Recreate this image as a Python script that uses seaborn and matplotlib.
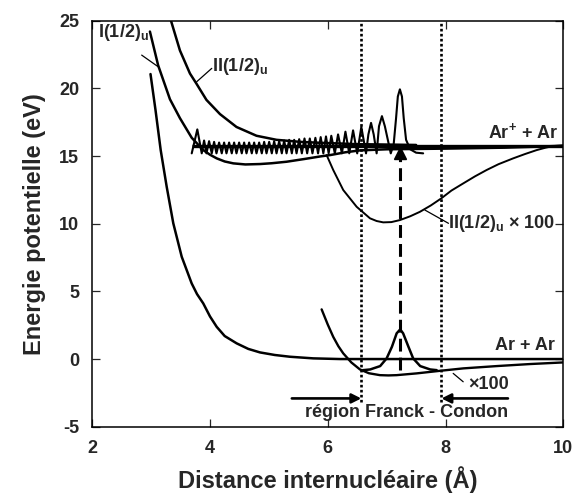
"""
Courbes de potentiel Ar2 / Ar2+ et region Franck-Condon.
"""
import matplotlib
matplotlib.use("Agg")
import matplotlib.pyplot as plt
import seaborn as sns

# --- Etat fondamental (Ar + Ar), mur repulsif + asymptote
ground_x = [2.99, 3.075, 3.163, 3.265, 3.377, 3.52, 3.689, 3.78, 3.886, 4.0, 4.114, 4.25,
            4.453, 4.65, 4.849, 5.1, 5.358, 5.754, 6.207, 10.0]
ground_y = [21.06, 18.40, 15.44, 12.73, 10.03, 7.56, 5.59, 4.80, 4.11, 3.15, 2.38, 1.70,
            1.16, 0.75, 0.49, 0.30, 0.17, 0.05, 0.0, 0.0]

# --- Puits du fondamental agrandi x100
well_x = [5.896, 6.0, 6.093, 6.18, 6.263, 6.40, 6.547, 6.70, 6.886, 7.03, 7.17, 7.509,
          7.905, 8.301, 8.868, 9.433, 9.998]
well_y = [3.67, 2.55, 1.64, 0.95, 0.42, -0.25, -0.77, -1.05, -1.19, -1.21, -1.19, -1.06,
          -0.87, -0.69, -0.52, -0.37, -0.25]

# --- Fonction d'onde v=0 du fondamental
gs_psi_x = [6.60, 6.72, 6.89, 7.00, 7.09, 7.17, 7.23, 7.28, 7.37, 7.45, 7.57, 7.74, 7.85]
gs_psi_y = [-0.82, -0.77, -0.52, 0.05, 0.91, 1.90, 2.19, 1.90, 0.91, 0.05, -0.52, -0.77, -0.82]

# --- Etat ionique I(1/2)u
state1_x = [2.98, 3.12, 3.32, 3.49, 3.69, 3.886, 4.0, 4.114, 4.25, 4.396, 4.6, 4.85, 5.05,
            5.30, 5.60, 5.87, 6.05, 6.30, 6.55, 7.0, 8.0, 9.0, 9.6, 10.0]
state1_y = [24.2, 21.7, 19.2, 17.8, 16.35, 15.44, 15.10, 14.83, 14.60, 14.46, 14.38, 14.41,
            14.47, 14.58, 14.78, 14.97, 15.08, 15.28, 15.42, 15.5, 15.55, 15.62, 15.7, 15.76]

# --- Etat ionique II(1/2)u
state2_x = [3.338, 3.49, 3.66, 3.77, 3.94, 4.17, 4.45, 4.79, 5.13, 5.53, 5.87, 6.5, 7.5]
state2_y = [25.0, 22.8, 21.1, 20.35, 19.15, 18.1, 17.15, 16.5, 16.2, 16.05, 15.98, 15.88, 15.82]

# --- Puits de II(1/2)u agrandi x100
state2_well_x = [5.981, 6.093, 6.263, 6.491, 6.717, 6.83, 6.942, 7.08, 7.226, 7.40, 7.565,
                 7.75, 7.927, 8.1, 8.301, 8.5, 8.698, 8.9, 9.149, 9.35, 9.547, 9.7, 9.829, 10.0]
state2_well_y = [15.07, 13.97, 12.49, 11.25, 10.40, 10.20, 10.10, 10.12, 10.27, 10.55, 10.88,
                 11.35, 11.87, 12.45, 12.98, 13.50, 13.97, 14.40, 14.83, 15.15, 15.44, 15.62,
                 15.74, 15.78]

# --- Fonction d'onde vibrationnelle de l'etat ionique
psi_x = [3.69, 3.785, 3.86,
         3.90, 3.94, 3.985, 4.03, 4.07, 4.11, 4.155, 4.20, 4.24, 4.28,
         4.325, 4.37, 4.41, 4.45, 4.495, 4.54, 4.58, 4.62, 4.665, 4.71,
         4.75, 4.79, 4.835, 4.88, 4.92, 4.96, 5.005, 5.05, 5.09, 5.13,
         5.175, 5.22, 5.26, 5.30, 5.345, 5.39, 5.43, 5.47, 5.515, 5.56,
         5.605, 5.65, 5.695, 5.74, 5.79, 5.835, 5.88, 5.925, 5.97, 6.015,
         6.06, 6.12, 6.175, 6.24, 6.30, 6.365, 6.43, 6.50, 6.57, 6.65,
         6.69, 6.735, 6.78, 6.83, 6.87, 6.92, 6.97, 7.07,
         7.12, 7.16, 7.19, 7.225, 7.26, 7.29, 7.33, 7.40, 7.50, 7.62]
psi_y = [15.2, 16.97, 15.2,
         16.15, 15.2, 16.1, 15.2, 16.05, 15.2, 16.0, 15.2, 16.0, 15.2,
         16.0, 15.2, 16.0, 15.2, 16.0, 15.2, 16.0, 15.2, 16.0, 15.2,
         16.0, 15.2, 16.0, 15.2, 16.05, 15.2, 16.05, 15.2, 16.1, 15.2,
         16.1, 15.2, 16.15, 15.2, 16.2, 15.2, 16.2, 15.2, 16.25, 15.2,
         16.3, 15.2, 16.3, 15.2, 16.35, 15.2, 16.4, 15.2, 16.45, 15.2,
         16.5, 15.2, 16.6, 15.2, 16.8, 15.2, 16.9, 15.2, 17.15, 15.2,
         16.6, 17.45, 16.6, 15.2, 17.2, 17.95, 17.2, 15.2,
         15.9, 17.8, 19.4, 19.93, 19.4, 17.8, 16.2, 15.5, 15.25, 15.2]

ion_limit = 15.75          # Ar+ + Ar
transition_x = 7.23        # fleche verticale
fc_bounds = [6.57, 7.93]   # region Franck-Condon

sns.set_style("ticks")
plt.rcParams['font.family'] = ['Liberation Sans', 'DejaVu Sans']
plt.rcParams['font.weight'] = 'bold'
plt.rcParams['axes.unicode_minus'] = False
plt.rcParams['mathtext.fontset'] = 'custom'
plt.rcParams['mathtext.rm'] = 'Liberation Sans:bold'
plt.rcParams['mathtext.bf'] = 'Liberation Sans:bold'
plt.rcParams['mathtext.it'] = 'Liberation Sans:bold'
plt.rcParams['mathtext.default'] = 'bf'

fig = plt.figure(figsize=(5.72, 4.96), dpi=100)
ax = fig.add_axes([0.1612, 0.1397, 0.8236, 0.8185])

kw = dict(ax=ax, color='black', sort=False, estimator=None, legend=False)
sns.lineplot(x=ground_x, y=ground_y, lw=1.8, **kw)
sns.lineplot(x=well_x, y=well_y, lw=1.7, **kw)
sns.lineplot(x=gs_psi_x, y=gs_psi_y, lw=1.8, **kw)
sns.lineplot(x=state1_x, y=state1_y, lw=1.8, **kw)
sns.lineplot(x=state2_x, y=state2_y, lw=1.8, **kw)
sns.lineplot(x=state2_well_x, y=state2_well_y, lw=1.4, **kw)
sns.lineplot(x=psi_x, y=psi_y, lw=1.5, **kw)
ax.hlines(ion_limit, 3.7, 10, color='black', lw=2.4)

# transition verticale
ax.plot([transition_x, transition_x], [-0.8, 14.95], color='black', lw=2.2,
        linestyle=(0, (4.2, 2.0)))
ax.plot([transition_x], [15.2], marker='^', color='black', markersize=8)

# region Franck-Condon
ax.vlines(fc_bounds, -3.2, 25, colors='black', lw=1.9, linestyles=(0, (1.0, 0.9)))
arrow = dict(arrowstyle='-|>', lw=1.9, color='black', mutation_scale=14,
             shrinkA=0, shrinkB=0)
ax.annotate('', xy=(fc_bounds[0], -2.91), xytext=(5.39, -2.91), arrowprops=arrow)
ax.annotate('', xy=(fc_bounds[1], -2.91), xytext=(9.06, -2.91), arrowprops=arrow)
ax.text(7.34, -3.95, 'région Franck - Condon', ha='center', va='center', fontsize=13)

# etiquettes
ax.text(2.10, 24.16, r'I(1/2)$_{\mathbf{u}}$', ha='left', va='center', fontsize=13)
ax.plot([2.84, 3.12], [22.46, 21.6], color='black', lw=0.9)
ax.text(4.03, 21.65, r'II(1/2)$_{\mathbf{u}}$', ha='left', va='center', fontsize=13)
ax.plot([3.774, 4.03], [20.49, 21.48], color='black', lw=0.9)
ax.text(9.91, 16.80, r'Ar$^{\mathbf{+}}$ + Ar', ha='right', va='center', fontsize=13)
ax.text(8.05, 10.0, r'II(1/2)$_{\mathbf{u}}$ × 100', ha='left', va='center', fontsize=13)
ax.plot([7.65, 8.05], [11.01, 10.03], color='black', lw=0.9)
ax.text(9.86, 1.03, 'Ar + Ar', ha='right', va='center', fontsize=13)
ax.text(8.39, -1.85, '×100', ha='left', va='center', fontsize=13)
ax.plot([8.13, 8.30], [-1.06, -1.68], color='black', lw=0.9)

ax.set_xlim(2, 10)
ax.set_ylim(-5, 25)
ax.set_xticks([2, 4, 6, 8, 10])
ax.set_yticks([-5, 0, 5, 10, 15, 20, 25])
ax.tick_params(direction='in', top=True, right=True, length=5.5, width=0.9,
               labelsize=13, pad=9.5)
for s in ax.spines.values():
    s.set_linewidth(1.1)
    s.set_color('black')

ax.set_xlabel('Distance internucléaire (Å)', fontsize=17, fontweight='bold', labelpad=7)
ax.set_ylabel('Energie potentielle (eV)', fontsize=17, fontweight='bold', labelpad=9)

fig.savefig('out.png', dpi=100)
